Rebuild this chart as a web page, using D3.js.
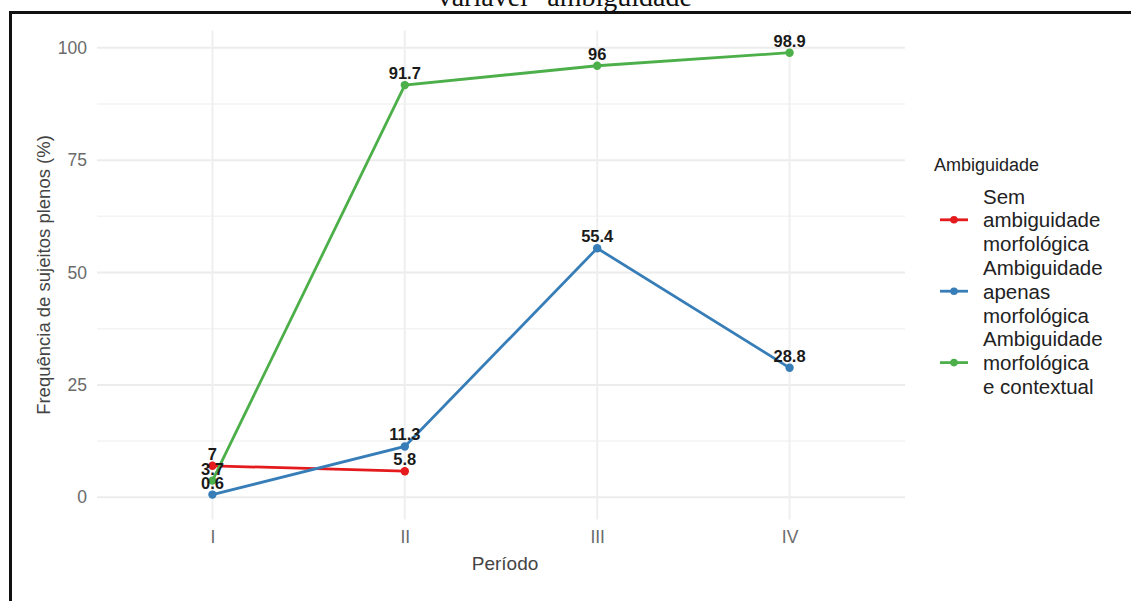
<!DOCTYPE html>
<html>
<head>
<meta charset="utf-8">
<script src="https://cdn.jsdelivr.net/npm/d3@7"></script>
<style>
html,body{margin:0;padding:0;background:#fff;}
svg{display:block;}
</style>
</head>
<body>
<svg id="chart" width="1131" height="601"></svg>
<script>
const periods = ["I", "II", "III", "IV"];
const seriesNames = [
  "Sem ambiguidade morfológica",
  "Ambiguidade apenas morfológica",
  "Ambiguidade morfológica e contextual"
];
const legendLines = [
  ["Sem", "ambiguidade", "morfológica"],
  ["Ambiguidade", "apenas", "morfológica"],
  ["Ambiguidade", "morfológica", "e contextual"]
];
const semValues = [7, 5.8, null, null];
const apenasValues = [0.6, 11.3, 55.4, 28.8];
const contextualValues = [3.7, 91.7, 96, 98.9];
const colors = ["#e41a1c", "#377eb8", "#4daf4a"];
const yTicks = [0, 25, 50, 75, 100];
const yMinor = [12.5, 37.5, 62.5, 87.5];

const svg = d3.select("#chart");
const allValues = [semValues, apenasValues, contextualValues];
const FONT = "Liberation Sans, Arial, sans-serif";

const panel = {left: 97, right: 905, top: 30.5, bottom: 519.5};

const x = d3.scalePoint().domain(periods).range([panel.left, panel.right]).padding(0.6);
const y = d3.scaleLinear().domain([-4.945, 103.845]).range([panel.bottom, panel.top]);

// Gridlines
const g = svg.append("g");
g.selectAll(".minor").data(yMinor).enter().append("line")
  .attr("x1", panel.left).attr("x2", panel.right)
  .attr("y1", d => y(d)).attr("y2", d => y(d))
  .attr("stroke", "#f3f3f3").attr("stroke-width", 1.5);
g.selectAll(".major").data(yTicks).enter().append("line")
  .attr("x1", panel.left).attr("x2", panel.right)
  .attr("y1", d => y(d)).attr("y2", d => y(d))
  .attr("stroke", "#ececec").attr("stroke-width", 2);
g.selectAll(".vmajor").data(periods).enter().append("line")
  .attr("x1", d => x(d)).attr("x2", d => x(d))
  .attr("y1", panel.top).attr("y2", panel.bottom)
  .attr("stroke", "#efefef").attr("stroke-width", 2);

// Axes (text only)
const yAxis = d3.axisLeft(y).tickValues(yTicks).tickSize(0).tickPadding(10);
const ya = svg.append("g").attr("transform", `translate(${panel.left},0)`).call(yAxis);
ya.select(".domain").remove();
ya.selectAll("text").attr("font-family", FONT).attr("font-size", 17.5).attr("fill", "#6a6a6a");

const xAxis = d3.axisBottom(x).tickSize(0).tickPadding(11);
const xa = svg.append("g").attr("transform", `translate(0,${panel.bottom})`).call(xAxis);
xa.select(".domain").remove();
xa.selectAll("text").attr("font-family", FONT).attr("font-size", 17.5).attr("fill", "#6a6a6a");

// Axis titles
svg.append("text").attr("x", 505).attr("y", 570)
  .attr("text-anchor", "middle").attr("font-family", FONT)
  .attr("font-size", 19).attr("fill", "#444").text("Período");
svg.append("text").attr("transform", `translate(50,${(panel.top + panel.bottom) / 2}) rotate(-90)`)
  .attr("text-anchor", "middle").attr("font-family", FONT)
  .attr("font-size", 18.5).attr("fill", "#444").text("Frequência de sujeitos plenos (%)");

// Lines and points
const line = d3.line().defined(d => d.v !== null).x(d => x(d.p)).y(d => y(d.v));
allValues.forEach((vals, i) => {
  const data = periods.map((p, j) => ({p, v: vals[j]}));
  svg.append("path").datum(data).attr("d", line)
    .attr("fill", "none").attr("stroke", colors[i]).attr("stroke-width", 2.8);
  svg.selectAll(null).data(data.filter(d => d.v !== null)).enter().append("circle")
    .attr("cx", d => x(d.p)).attr("cy", d => y(d.v)).attr("r", 4.2).attr("fill", colors[i]);
});
// Labels
allValues.forEach((vals, i) => {
  const data = periods.map((p, j) => ({p, v: vals[j]})).filter(d => d.v !== null);
  svg.selectAll(null).data(data).enter().append("text")
    .attr("x", d => x(d.p)).attr("y", d => y(d.v) - 6)
    .attr("text-anchor", "middle").attr("font-family", FONT)
    .attr("font-weight", "bold").attr("font-size", 16.5).attr("fill", "#1a1a1a")
    .text(d => String(d.v));
});

// Legend
const lg = svg.append("g");
lg.append("text").attr("x", 934).attr("y", 171).attr("font-family", FONT)
  .attr("font-size", 18).attr("fill", "#222").text("Ambiguidade");
const lineH = 23.8;
legendLines.forEach((lines, i) => {
  const c0 = 196 + i * lines.length * lineH;
  const cy = c0 + lineH;
  lg.append("line").attr("x1", 940).attr("x2", 968).attr("y1", cy).attr("y2", cy)
    .attr("stroke", colors[i]).attr("stroke-width", 2.8);
  lg.append("circle").attr("cx", 954).attr("cy", cy).attr("r", 3.8).attr("fill", colors[i]);
  lines.forEach((t, k) => {
    lg.append("text").attr("x", 983).attr("y", c0 + k * lineH + 7.5)
      .attr("font-family", FONT).attr("font-size", 20.5)
      .attr("fill", "#222").text(t);
  });
});

// Frame and cut-off caption
svg.append("text").attr("x", 571).attr("y", 6).attr("text-anchor", "middle")
  .attr("font-family", "Liberation Serif, Times New Roman, serif").attr("font-size", 28)
  .attr("fill", "#111").text("variável \u201cambiguidade\u201d");
svg.append("rect").attr("x", 10.5).attr("y", 12.5).attr("width", 1140).attr("height", 600)
  .attr("fill", "none").attr("stroke", "#111").attr("stroke-width", 3);
</script>
</body>
</html>
